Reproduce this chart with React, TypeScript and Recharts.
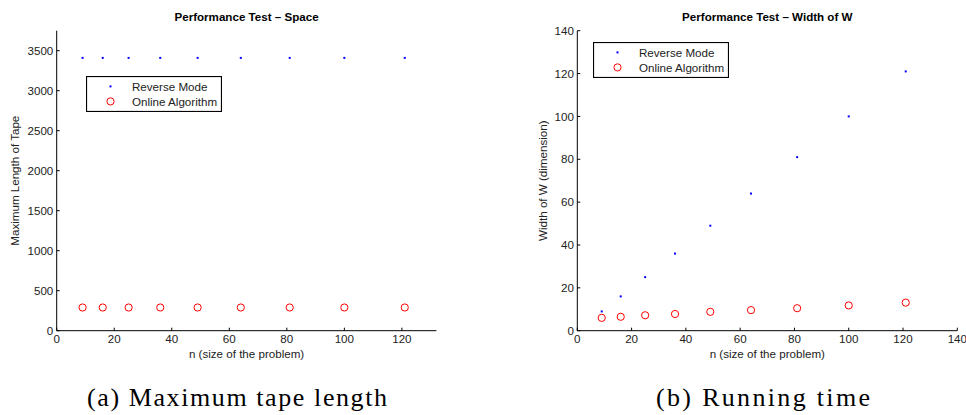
import React from "react"
import { ScatterChart, Scatter, XAxis, YAxis, Legend } from "recharts"

// problem sizes n (shared by both plots)
const nValues = [9, 16, 25, 36, 49, 64, 81, 100, 121]

// (a) maximum tape length
const spaceReverse = [3410, 3410, 3410, 3410, 3410, 3410, 3410, 3410, 3410]
const spaceOnline = [290, 290, 290, 290, 290, 290, 290, 290, 290]

// (b) width of W
const widthReverse = [9, 16, 25, 36, 49, 64, 81, 100, 121]
const widthOnline = [6.0, 6.5, 7.2, 7.8, 8.8, 9.6, 10.5, 11.8, 13.1]

const spaceXTicks = [0, 20, 40, 60, 80, 100, 120]
const spaceYTicks = [0, 500, 1000, 1500, 2000, 2500, 3000, 3500]
const widthXTicks = [0, 20, 40, 60, 80, 100, 120, 140]
const widthYTicks = [0, 20, 40, 60, 80, 100, 120, 140]

const SERIES_NAMES = ["Reverse Mode", "Online Algorithm"]
const CAPTIONS = ["(a) Maximum tape length", "(b) Running time"]

const FONT = "'Liberation Sans', Arial, Helvetica, sans-serif"
const SERIF = "'Liberation Serif', 'Times New Roman', serif"
const FS = 11.6
const BLUE = "#0000ff"
const RED = "#ff0000"

const toPoints = (ys: number[]) => nValues.map((n, i) => ({ x: n, y: ys[i] }))

const DotShape = (p: any) => <rect x={p.cx - 1} y={p.cy - 1} width={2} height={2} fill={BLUE} />
const RingShape = (p: any) => (
  <circle cx={p.cx} cy={p.cy} r={3.6} fill="none" stroke={RED} strokeWidth={1} />
)

// keep the plotting order (Recharts sorts legend items by name)
const LegendBox = (props: any) => {
  const items = [...(props.payload || [])].sort(
    (a: any, b: any) => SERIES_NAMES.indexOf(a.value) - SERIES_NAMES.indexOf(b.value)
  )
  return (
    <svg width={136} height={36} style={{ display: "block" }}>
      <rect x={0.5} y={0.5} width={135} height={35} fill="#fff" stroke="#000" strokeWidth={1.2} />
      {items.map((entry: any, i: number) => {
        const cy = 10.4 + i * 15
        return (
          <g key={entry.value}>
            {entry.value === SERIES_NAMES[0] ? (
              <rect x={23.5} y={cy - 1} width={2} height={2} fill={BLUE} />
            ) : (
              <circle cx={24.5} cy={cy} r={3.6} fill="none" stroke={RED} />
            )}
            <text x={46} y={cy + 4.1} fontFamily={FONT} fontSize={FS} fill="#222">
              {entry.value}
            </text>
          </g>
        )
      })}
    </svg>
  )
}

interface PanelProps {
  title: string
  yLabel: string
  reverse: number[]
  online: number[]
  xMax: number
  yMax: number
  xTicks: number[]
  yTicks: number[]
  width: number
  yAxisWidth: number
  rightMargin: number
  yLabelOffset: number
  legendPos: { left: number; top: number }
}

function Panel(p: PanelProps) {
  const tickStyle = { fontSize: FS, fill: "#222", fontFamily: FONT }
  return (
    <ScatterChart
      width={p.width}
      height={370}
      margin={{ top: 0, right: p.rightMargin, bottom: 0, left: 0 }}
      style={{ fontFamily: FONT }}
    >
      <XAxis
        xAxisId="title"
        orientation="top"
        type="number"
        domain={[0, 1]}
        height={30.7}
        axisLine={false}
        tickLine={false}
        tick={false}
        label={{
          value: p.title,
          position: "insideTop",
          offset: 12.8,
          style: { fontWeight: "bold", fontSize: FS, fill: "#000", fontFamily: FONT },
        }}
      />
      <XAxis
        dataKey="x"
        type="number"
        domain={[0, p.xMax]}
        ticks={p.xTicks}
        interval={0}
        height={39.3}
        tickSize={-3}
        tickMargin={7.3}
        axisLine={{ stroke: "#000" }}
        tickLine={{ stroke: "#000" }}
        tick={tickStyle}
        label={{
          value: "n (size of the problem)",
          position: "insideBottom",
          offset: 12,
          style: { fontSize: FS, fill: "#222", fontFamily: FONT },
        }}
      />
      <YAxis
        dataKey="y"
        type="number"
        domain={[0, p.yMax]}
        ticks={p.yTicks}
        interval={0}
        width={p.yAxisWidth}
        tickSize={-3}
        tickMargin={6.4}
        axisLine={{ stroke: "#000" }}
        tickLine={{ stroke: "#000" }}
        tick={tickStyle}
        label={{
          value: p.yLabel,
          angle: -90,
          position: "insideLeft",
          offset: p.yLabelOffset,
          style: { textAnchor: "middle", fontSize: FS, fill: "#222", fontFamily: FONT },
        }}
      />
      <Legend
        layout="vertical"
        align="center"
        verticalAlign="middle"
        content={LegendBox}
        wrapperStyle={{ left: p.legendPos.left, top: p.legendPos.top, width: 136, height: 36 }}
      />
      <Scatter
        name={SERIES_NAMES[0]}
        data={toPoints(p.reverse)}
        fill={BLUE}
        shape={DotShape}
        isAnimationActive={false}
      />
      <Scatter
        name={SERIES_NAMES[1]}
        data={toPoints(p.online)}
        fill={RED}
        shape={RingShape}
        isAnimationActive={false}
      />
    </ScatterChart>
  )
}

export default function App() {
  return (
    <div style={{ position: "absolute", left: 0, top: 0, width: 966, height: 415, background: "#fff" }}>
      <div style={{ position: "absolute", left: 0, top: 0 }}>
        <Panel
          title="Performance Test – Space"
          yLabel="Maximum Length of Tape"
          reverse={spaceReverse}
          online={spaceOnline}
          xMax={132}
          yMax={3750}
          xTicks={spaceXTicks}
          yTicks={spaceYTicks}
          width={480}
          yAxisWidth={56.7}
          rightMargin={43.6}
          yLabelOffset={15}
          legendPos={{ left: 85.5, top: 76 }}
        />
      </div>
      <div style={{ position: "absolute", left: 480, top: 0 }}>
        <Panel
          title="Performance Test – Width of W"
          yLabel="Width of W (dimension)"
          reverse={widthReverse}
          online={widthOnline}
          xMax={140}
          yMax={140}
          xTicks={widthXTicks}
          yTicks={widthYTicks}
          width={486}
          yAxisWidth={97.3}
          rightMargin={8.7}
          yLabelOffset={62.7}
          legendPos={{ left: 113, top: 41.5 }}
        />
      </div>
      <svg
        width={966}
        height={45}
        style={{ position: "absolute", left: 0, top: 370, display: "block" }}
      >
        <text
          x={237}
          y={36}
          textAnchor="middle"
          fontFamily={SERIF}
          fontSize={26}
          textLength={300}
          lengthAdjust="spacing"
          fill="#000"
        >
          {CAPTIONS[0]}
        </text>
        <text
          x={763}
          y={36}
          textAnchor="middle"
          fontFamily={SERIF}
          fontSize={26}
          textLength={214}
          lengthAdjust="spacing"
          fill="#000"
        >
          {CAPTIONS[1]}
        </text>
      </svg>
    </div>
  )
}
